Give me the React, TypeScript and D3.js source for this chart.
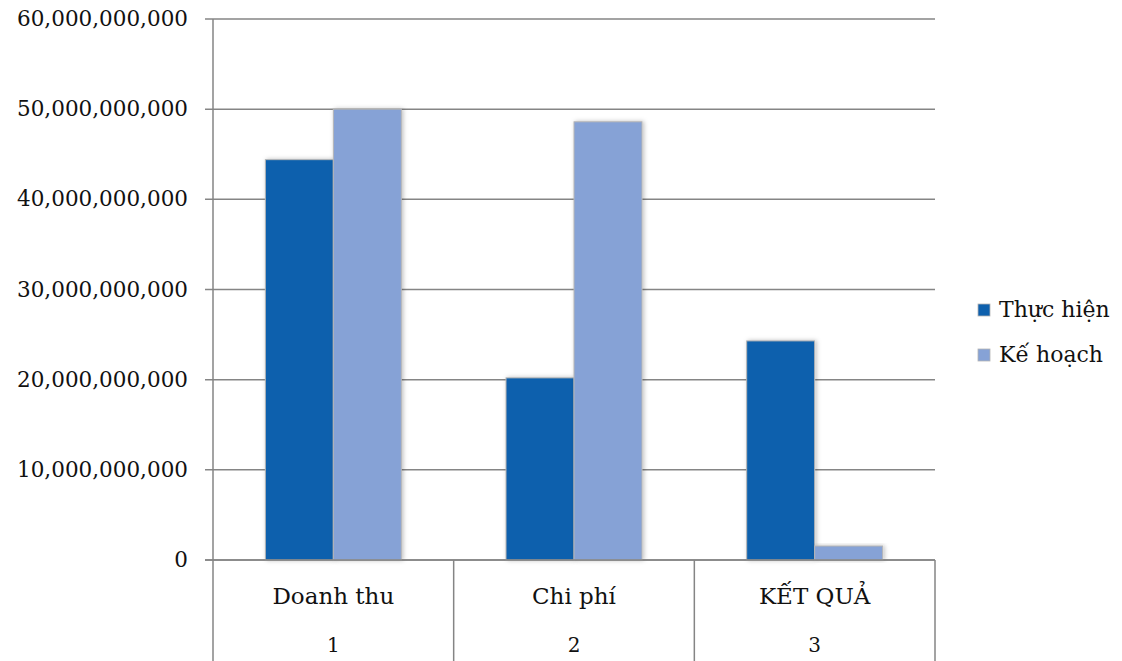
import React from "react";
import * as d3 from "d3";

const categories = ["Doanh thu", "Chi phí", "KẾT QUẢ"];
const categoryNumbers = ["1", "2", "3"];
const seriesNames = ["Thực hiện", "Kế hoạch"];
const thucHien = [44.4e9, 20.2e9, 24.3e9];
const keHoach = [50.0e9, 48.6e9, 1.55e9];
const yTicks = [0, 10e9, 20e9, 30e9, 40e9, 50e9, 60e9];
const colors = ["#0E60AD", "#86A2D6"];

const W = 1122;
const H = 661;
const left = 213;
const right = 935;
const top = 19;
const bottom = 560;
const font = "'DejaVu Serif', serif";
const gridColor = "#858585";

export default function App() {
  const y = d3.scaleLinear().domain([0, 60e9]).range([bottom, top]);
  const x = d3.scaleBand<string>().domain(categories).range([left, right]).padding(0);
  const xs = d3
    .scaleBand<string>()
    .domain(seriesNames)
    .range([0, x.bandwidth()])
    .paddingInner(0)
    .paddingOuter(0.77);
  const series = [thucHien, keHoach];
  const fmt = d3.format(",");

  return (
    <svg width={W} height={H} style={{ position: "absolute", left: 0, top: 0, background: "#fff" }}>
      <defs>
        <filter id="sh" x="-20%" y="-20%" width="140%" height="140%">
          <feDropShadow dx="1.5" dy="0" stdDeviation="2" floodColor="#000" floodOpacity="0.25" />
        </filter>
      </defs>
      <rect width={W} height={H} fill="#fff" />
      {yTicks.map((t) => (
        <g key={t}>
          <line x1={205} x2={right} y1={y(t)} y2={y(t)} stroke={gridColor} strokeWidth={1.5} />
          <text
            x={188}
            y={y(t) + 7}
            textAnchor="end"
            fontFamily={font}
            fontSize={21.5}
            fill="#111"
          >
            {fmt(t)}
          </text>
        </g>
      ))}
      <line x1={left} x2={left} y1={top} y2={H} stroke={gridColor} strokeWidth={1.5} />
      {categories.map((c) => (
        <line
          key={"v" + c}
          x1={(x(c) as number) + x.bandwidth()}
          x2={(x(c) as number) + x.bandwidth()}
          y1={bottom}
          y2={H}
          stroke={gridColor}
          strokeWidth={1.5}
        />
      ))}
      {series.map((vals, si) =>
        categories.map((c, ci) => {
          const bx = (x(c) as number) + (xs(seriesNames[si]) as number);
          const by = y(vals[ci]);
          return (
            <rect
              key={si + "-" + ci}
              x={bx}
              y={by}
              width={xs.bandwidth()}
              height={bottom - by}
              fill={colors[si]}
              stroke="#b5b5b5"
              strokeWidth={1}
              filter="url(#sh)"
            />
          );
        })
      )}
      <line x1={205} x2={right} y1={bottom} y2={bottom} stroke={gridColor} strokeWidth={1.5} />
      {categories.map((c, i) => (
        <g key={"l" + c}>
          <text
            x={(x(c) as number) + x.bandwidth() / 2}
            y={604}
            textAnchor="middle"
            fontFamily={font}
            fontSize={23}
            fill="#111"
          >
            {c}
          </text>
          <text
            x={(x(c) as number) + x.bandwidth() / 2}
            y={652}
            textAnchor="middle"
            fontFamily={font}
            fontSize={20}
            fill="#111"
          >
            {categoryNumbers[i]}
          </text>
        </g>
      ))}
      {seriesNames.map((s, i) => (
        <g key={"lg" + s} transform={`translate(978, ${304 + i * 45})`}>
          <rect width={12} height={12} fill={colors[i]} stroke="#b5b5b5" strokeWidth={0.8} />
          <text x={21} y={13} fontFamily={font} fontSize={22} fill="#111">
            {s}
          </text>
        </g>
      ))}
    </svg>
  );
}
